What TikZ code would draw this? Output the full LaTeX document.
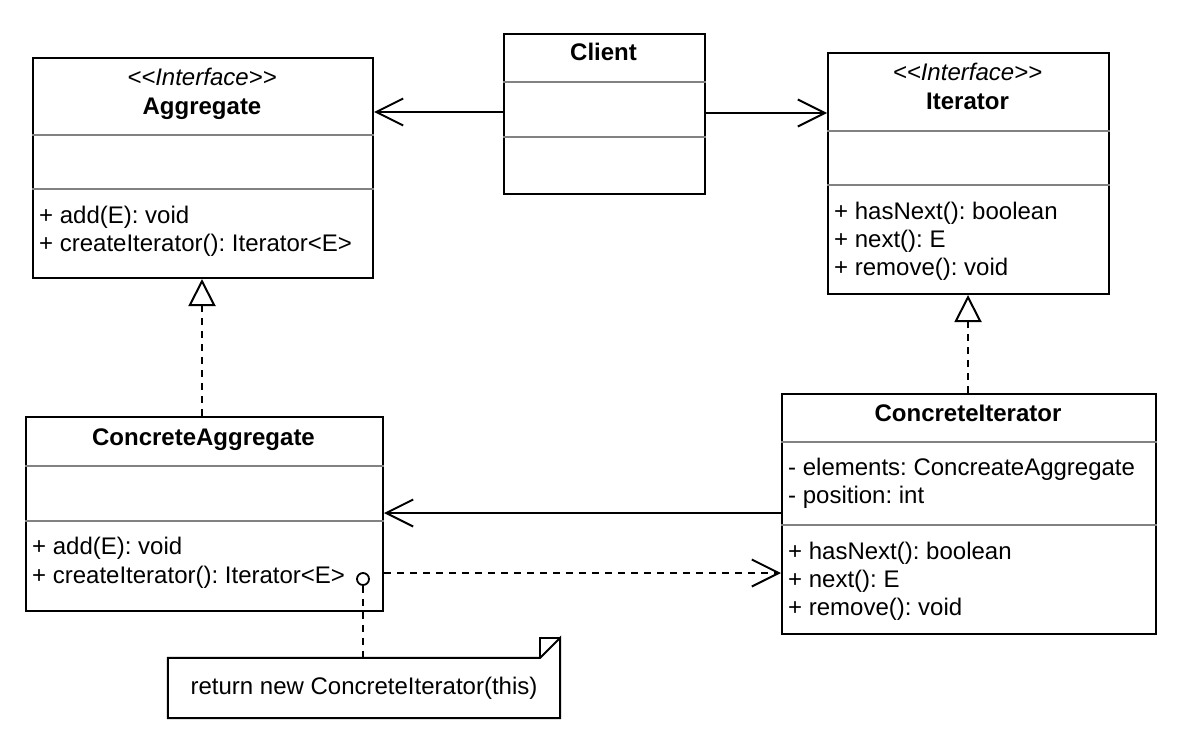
\documentclass[tikz,border=0pt]{standalone}
\usepackage{fontspec}
\setmainfont{Liberation Sans}
\usetikzlibrary{arrows.meta}
\definecolor{sepgray}{RGB}{130,130,130}
\frenchspacing
\begin{document}
\begin{tikzpicture}[x=1pt,y=-1pt,
  box/.style={draw=black, line width=2pt, fill=white, anchor=north west, inner sep=0pt},
  sepline/.style={draw=sepgray, line width=1.6pt},
  lbl/.style={inner sep=0pt, text height=17.5pt, text depth=5pt, font=\fontsize{24}{28.8}\selectfont},
  ttl/.style={lbl, font=\fontsize{24}{28.8}\selectfont\bfseries},
  ster/.style={lbl, font=\fontsize{24}{28.8}\selectfont\itshape},
  assoc/.style={line width=2pt, -{Straight Barb[length=27pt,width=27pt,line width=2pt]}},
  dep/.style={line width=2pt, dash pattern=on 7pt off 6pt, -{Straight Barb[length=27pt,width=27pt,line width=2pt]}},
  real/.style={line width=2pt, dash pattern=on 7pt off 6pt, -{Triangle[open,length=27pt,width=27pt,line width=2pt,fill=white]}},
  notelink/.style={line width=2pt, dash pattern=on 7pt off 6pt}
]
\useasboundingbox[fill=white] (0,0) rectangle (1180,736);

% Aggregate
\node[box, minimum width=340pt, minimum height=220pt] (agg) at (32,57) {};
\draw[sepline] (agg.west |- 0,135) -- (agg.east |- 0,135);
\draw[sepline] (agg.west |- 0,189) -- (agg.east |- 0,189);
\node[ster] (aggS) at (202,79) {<{}<Interface>{}>};
\node[ttl] (aggT) at (202,108) {Aggregate};
\node[lbl, anchor=west] (aggM1) at (39,217) {+ add(E): void};
\node[lbl, anchor=west] (aggM2) at (39,245) {+ createIterator(): Iterator<E>};

% Client
\node[box, minimum width=201pt, minimum height=160pt] (client) at (503,33) {};
\draw[sepline] (client.west |- 0,82) -- (client.east |- 0,82);
\draw[sepline] (client.west |- 0,137) -- (client.east |- 0,137);
\node[ttl] (clientT) at (603.5,54) {Client};

% Iterator
\node[box, minimum width=281pt, minimum height=241pt] (it) at (827,52) {};
\draw[sepline] (it.west |- 0,131) -- (it.east |- 0,131);
\draw[sepline] (it.west |- 0,185) -- (it.east |- 0,185);
\node[ster] (itS) at (967.5,74) {<{}<Interface>{}>};
\node[ttl] (itT) at (967.5,103) {Iterator};
\node[lbl, anchor=west] (itM1) at (834,213) {+ hasNext(): boolean};
\node[lbl, anchor=west] (itM2) at (834,241) {+ next(): E};
\node[lbl, anchor=west] (itM3) at (834,269) {+ remove(): void};

% ConcreteAggregate
\node[box, minimum width=357pt, minimum height=194pt] (cagg) at (25,416) {};
\draw[sepline] (cagg.west |- 0,466) -- (cagg.east |- 0,466);
\draw[sepline] (cagg.west |- 0,521) -- (cagg.east |- 0,521);
\node[ttl] (caggT) at (203.5,439) {ConcreteAggregate};
\node[lbl, anchor=west] (caggM1) at (32,548) {+ add(E): void};
\node[lbl, anchor=west] (caggM2) at (32,577) {+ createIterator(): Iterator<E>};

% ConcreteIterator
\node[box, minimum width=374pt, minimum height=240pt] (cit) at (781,393) {};
\draw[sepline] (cit.west |- 0,442) -- (cit.east |- 0,442);
\draw[sepline] (cit.west |- 0,525) -- (cit.east |- 0,525);
\node[ttl] (citT) at (968,415) {ConcreteIterator};
\node[lbl, anchor=west] (citA1) at (788,469) {- elements: ConcreateAggregate};
\node[lbl, anchor=west] (citA2) at (788,497) {- position: int};
\node[lbl, anchor=west] (citM1) at (788,553) {+ hasNext(): boolean};
\node[lbl, anchor=west] (citM2) at (788,581) {+ next(): E};
\node[lbl, anchor=west] (citM3) at (788,609) {+ remove(): void};

% Note
\node[inner sep=0pt, minimum width=392pt, minimum height=60pt] (note) at (364,688) {};
\draw[line width=2pt, fill=white] (note.north west) -- ([xshift=-20pt]note.north east) -- ([yshift=20pt]note.north east) -- (note.south east) -- (note.south west) -- cycle;
\draw[line width=2pt] ([xshift=-20pt]note.north east) -- ([xshift=-20pt,yshift=20pt]note.north east) -- ([yshift=20pt]note.north east);
\node[lbl] (noteT) at (note.center) {return new ConcreteIterator(this)};

% anchor circle
\node[circle, draw, line width=1.8pt, fill=white, minimum size=12pt, inner sep=0pt] (dot) at (363,579) {};

% connectors
\draw[assoc] (client.west |- 0,112) -- (agg.east |- 0,112);
\draw[assoc] (client.east |- 0,113) -- (it.west |- 0,113);
\draw[real] (cagg.north -| 202,0) -- (agg.south -| 202,0);
\draw[real] (cit.north -| 968,0) -- (it.south -| 968,0);
\draw[assoc] (cit.west |- 0,513) -- (cagg.east |- 0,513);
\draw[dep] (cagg.east |- 0,573) -- (cit.west |- 0,573);
\draw[notelink] (dot.south) -- (note.north -| dot.south);
\end{tikzpicture}
\end{document}
